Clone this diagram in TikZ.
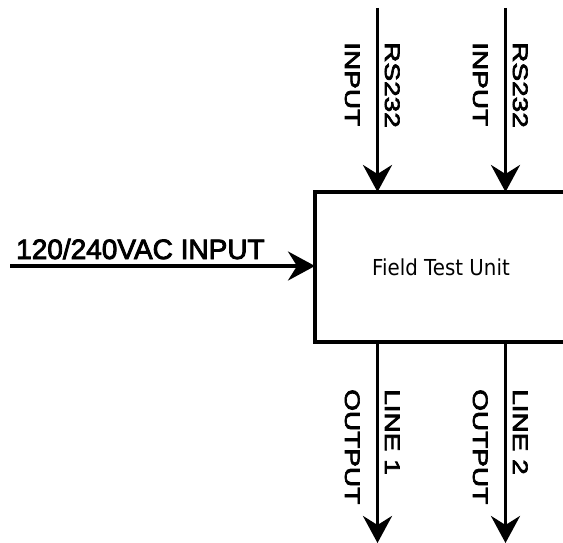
\documentclass[tikz,border=0pt]{standalone}
\usepackage{fontspec}
\setmainfont{Liberation Sans}
\newfontfamily\lblfont[FakeBold=3]{Liberation Sans}
\newfontfamily\boxfont{DejaVu Sans}
\usetikzlibrary{arrows.meta}
\begin{document}
\begin{tikzpicture}[x=1pt,y=-1pt,
  wire/.style={line width=3.6pt,-{Stealth[length=27pt,width=29pt,inset=9pt]}},
  vlabel/.style={rotate=-90,anchor=base west,inner sep=0pt,font=\lblfont\fontsize{28}{53.3}\selectfont},
  unitbox/.style={draw,line width=3.6pt,outer sep=0pt,minimum width=252pt,minimum height=150pt,inner sep=0pt}]
\useasboundingbox (0,0) rectangle (563,543);
\clip (0,0) rectangle (563,543);
\node[unitbox] (ftu) at (441,267) {\boxfont\fontsize{22}{26}\selectfont\scalebox{0.9}[1]{Field Test Unit}};
\coordinate (t1) at (377.5,8);
\coordinate (t2) at (505.5,8);
\coordinate (b1) at (377.5,543);
\coordinate (b2) at (505.5,543);
\coordinate (l) at (10,266);
\draw[wire] (t1) -- (t1 |- ftu.north);
\draw[wire] (t2) -- (t2 |- ftu.north);
\draw[wire] (b1 |- ftu.south) -- (b1);
\draw[wire] (b2 |- ftu.south) -- (b2);
\draw[wire] (l) -- (l -| ftu.west);
\node[vlabel] (in1) at (385,42) {\scalebox{1}[0.75]{\begin{tabular}[t]{@{}l@{}}RS232\\INPUT\end{tabular}}};
\node[vlabel] (in2) at (513,42) {\scalebox{1}[0.75]{\begin{tabular}[t]{@{}l@{}}RS232\\INPUT\end{tabular}}};
\node[vlabel] (out1) at (385,389) {\scalebox{1}[0.75]{\begin{tabular}[t]{@{}l@{}}LINE 1\\OUTPUT\end{tabular}}};
\node[vlabel] (out2) at (513,389) {\scalebox{1}[0.75]{\begin{tabular}[t]{@{}l@{}}LINE 2\\OUTPUT\end{tabular}}};
\node[anchor=base west,inner sep=0pt,font=\lblfont\fontsize{28}{34}\selectfont] (ac) at (16,259) {120/240VAC INPUT};
\end{tikzpicture}
\end{document}
